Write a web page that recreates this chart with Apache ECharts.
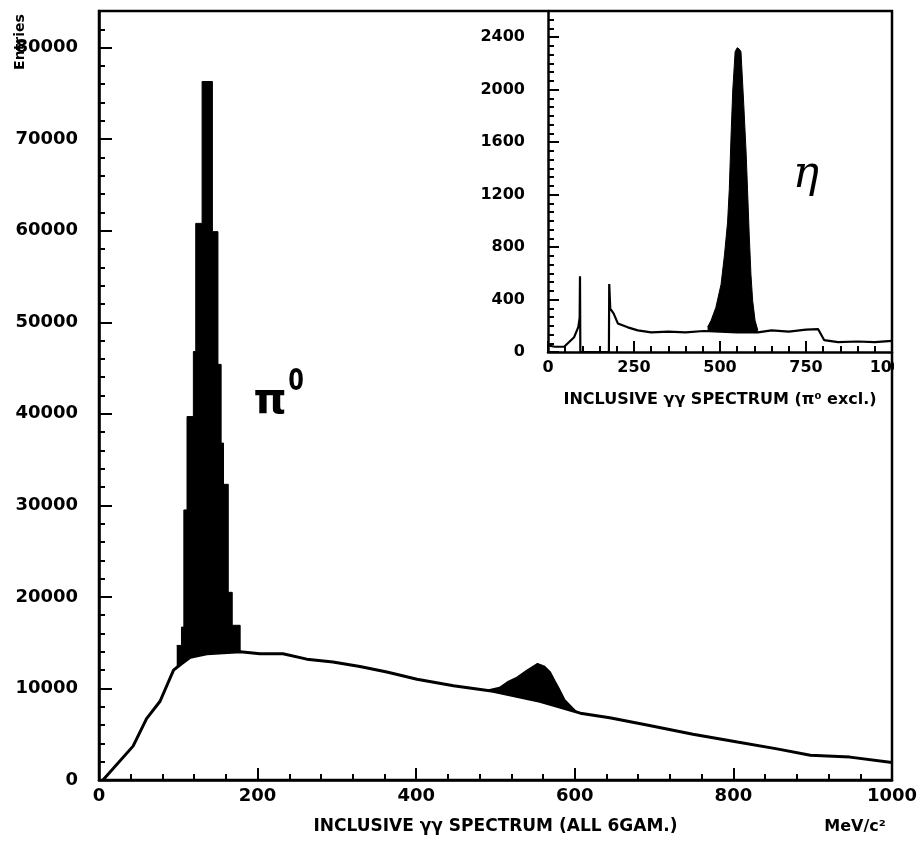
<!DOCTYPE html>
<html><head><meta charset="utf-8">
<script src="https://cdn.jsdelivr.net/npm/echarts@6/dist/echarts.min.js"></script>
<style>html,body{margin:0;padding:0;background:#fff}#c{width:922px;height:850px}</style>
</head><body><div id="c"></div>
<script>
// ---- main spectrum (all 6 gamma), MeV/c^2 vs entries ----
const mainBgX = [5, 43, 60, 77, 94, 104, 115, 136, 178, 203, 232, 262, 295, 329, 363, 401, 447, 497, 556, 607, 644, 691, 749, 805, 855, 897, 947, 1000];
const mainBgY = [0, 3700, 6700, 8600, 12000, 12700, 13400, 13800, 14000, 13800, 13800, 13200, 12900, 12400, 11800, 11000, 10300, 9700, 8600, 7300, 6800, 6000, 5000, 4150, 3400, 2700, 2500, 1900];
// pi0 peak histogram: left bin edges and bin contents (last entry closes the histogram)
const pi0X = [98, 104, 107, 111, 119, 122, 130, 143, 150, 154, 157, 163, 168, 178];
const pi0Y = [14700, 16700, 29500, 39700, 46800, 60800, 76300, 59900, 45400, 36800, 32300, 20500, 16900, 0];
// eta peak outline in main plot
const etaX = [490, 505, 515, 527, 540, 553, 562, 569, 575, 580, 587, 597, 605];
const etaY = [9800, 10100, 10700, 11200, 12000, 12700, 12400, 11800, 10800, 10000, 8800, 7900, 7200];

// ---- inset spectrum (pi0 excluded) ----
const insetBgX = [0, 20, 47, 76, 88, 92, 93, 94, 120, 150, 177, 178, 181, 191, 203, 232, 261, 300, 350, 400, 453, 500, 550, 610, 650, 700, 750, 785, 803, 843, 900, 950, 1000];
const insetBgY = [50, 40, 40, 113, 190, 260, 578, 0, 0, 0, 0, 518, 330, 293, 218, 188, 165, 150, 155, 150, 160, 155, 150, 150, 165, 155, 170, 175, 90, 75, 80, 75, 85];
const insetPeakX = [464, 474, 488, 503, 513, 522, 527, 532, 537, 544, 550, 556, 561, 569, 576, 580, 585, 590, 595, 602, 610];
const insetPeakY = [190, 240, 340, 515, 740, 990, 1240, 1640, 1990, 2290, 2320, 2310, 2290, 1890, 1515, 1240, 890, 590, 390, 240, 165];

// axis ranges / ticks
const mainXRange = [0, 1000, 200];
const mainYRange = [0, 84000, 10000, 2000];
const insetXRange = [0, 1000, 250];
const insetYRange = [0, 2600, 400];

const mainXTitle = 'INCLUSIVE γγ SPECTRUM (ALL 6GAM.)';
const insetXTitle = 'INCLUSIVE γγ SPECTRUM (π⁰ excl.)';
const yTitle = 'Entries';
const unitLabel = 'MeV/c²';

function pairs(xs, ys) { return xs.map((x, i) => [x, ys[i]]); }

const FONT = 'DejaVu Sans';
const BLACK = '#000';
const lbl = (size, margin) => ({ color: BLACK, fontFamily: FONT, fontWeight: 'bold', fontSize: size, margin: margin, formatter: v => String(v) });

const chart = echarts.init(document.getElementById('c'), null, { renderer: 'canvas' });
chart.setOption({
  backgroundColor: '#fff',
  animation: false,
  grid: [
    { left: 99, right: 30, top: 11, bottom: 70, show: true, borderColor: BLACK, borderWidth: 2.5, z: 10, backgroundColor: 'transparent' },
    { left: 548, right: 30, top: 11, bottom: 498, show: false }
  ],
  xAxis: [
    {
      gridIndex: 0, type: 'value', min: mainXRange[0], max: mainXRange[1], interval: mainXRange[2], z: 12,
      axisLine: { show: true, onZero: false, lineStyle: { color: BLACK, width: 2.5 } },
      axisTick: { show: true, inside: true, length: 12, lineStyle: { color: BLACK, width: 2 } },
      minorTick: { show: true, splitNumber: 5, length: 6, lineStyle: { color: BLACK, width: 2 } },
      splitLine: { show: false }, minorSplitLine: { show: false },
      axisLabel: lbl(18, 7),
      name: mainXTitle, nameLocation: 'middle', nameGap: 38,
      nameTextStyle: { color: BLACK, fontFamily: FONT, fontWeight: 'bold', fontSize: 17 }
    },
    {
      gridIndex: 1, type: 'value', min: insetXRange[0], max: insetXRange[1], interval: insetXRange[2], z: 12,
      axisLine: { show: true, onZero: false, lineStyle: { color: BLACK, width: 2.5 } },
      axisTick: { show: true, inside: true, length: 11, lineStyle: { color: BLACK, width: 2 } },
      minorTick: { show: true, splitNumber: 5, length: 6, lineStyle: { color: BLACK, width: 2 } },
      splitLine: { show: false }, minorSplitLine: { show: false },
      axisLabel: lbl(16, 8),
      name: insetXTitle, nameLocation: 'middle', nameGap: 40,
      nameTextStyle: { color: BLACK, fontFamily: FONT, fontWeight: 'bold', fontSize: 16 }
    }
  ],
  yAxis: [
    {
      gridIndex: 0, type: 'value', min: mainYRange[0], max: mainYRange[1], interval: mainYRange[2], z: 12, position: 'left',
      axisLine: { show: true, onZero: false, lineStyle: { color: BLACK, width: 2.5 } },
      axisTick: { show: true, inside: true, length: 13, lineStyle: { color: BLACK, width: 2 } },
      splitLine: { show: false },
      axisLabel: Object.assign(lbl(18, 21), { showMaxLabel: false })
    },
    {
      gridIndex: 0, type: 'value', min: mainYRange[0], max: mainYRange[1], interval: mainYRange[3], z: 12, position: 'left',
      axisLine: { show: false },
      axisTick: { show: true, inside: true, length: 6, lineStyle: { color: BLACK, width: 2 } },
      splitLine: { show: false }, axisLabel: { show: false }
    },
    {
      gridIndex: 1, type: 'value', min: insetYRange[0], max: insetYRange[1], interval: insetYRange[2], z: 12, position: 'left',
      axisLine: { show: true, onZero: false, lineStyle: { color: BLACK, width: 2.5 } },
      axisTick: { show: true, inside: true, length: 11, lineStyle: { color: BLACK, width: 2 } },
      splitLine: { show: false },
      axisLabel: Object.assign(lbl(16, 23), { showMaxLabel: false })
    },
    {
      gridIndex: 1, type: 'value', min: insetYRange[0], max: insetYRange[1], interval: insetYRange[1] / 39, z: 12, position: 'left',
      axisLine: { show: false },
      axisTick: { show: true, inside: true, length: 6, lineStyle: { color: BLACK, width: 2 } },
      splitLine: { show: false }, axisLabel: { show: false }
    }
  ],
  series: [
    { type: 'line', xAxisIndex: 0, yAxisIndex: 0, data: pairs(pi0X, pi0Y), step: 'end', symbol: 'none', z: 2,
      lineStyle: { color: BLACK, width: 1 }, areaStyle: { color: BLACK, opacity: 1 } },
    { type: 'line', xAxisIndex: 0, yAxisIndex: 0, data: pairs(etaX, etaY), symbol: 'none', z: 2,
      lineStyle: { color: BLACK, width: 1.5 }, areaStyle: { color: BLACK, opacity: 1 } },
    { type: 'line', xAxisIndex: 0, yAxisIndex: 0, data: pairs(mainBgX, mainBgY), symbol: 'none', z: 3,
      lineStyle: { color: BLACK, width: 3 }, areaStyle: { color: '#fff', opacity: 1 } },
    { type: 'line', xAxisIndex: 1, yAxisIndex: 2, data: pairs(insetPeakX, insetPeakY), symbol: 'none', z: 2,
      lineStyle: { color: BLACK, width: 1 }, areaStyle: { color: BLACK, opacity: 1 } },
    { type: 'line', xAxisIndex: 1, yAxisIndex: 2, data: pairs(insetBgX, insetBgY), symbol: 'none', z: 3,
      lineStyle: { color: BLACK, width: 2.2 }, areaStyle: { color: '#fff', opacity: 1 } }
  ],
  graphic: [
    { type: 'text', x: 20, y: 42, rotation: Math.PI / 2, z: 100,
      style: { text: yTitle, font: 'bold 14px "DejaVu Sans"', fill: BLACK, align: 'center', verticalAlign: 'middle' } },
    { type: 'text', x: 855, y: 827, z: 100,
      style: { text: unitLabel, font: 'bold 16px "DejaVu Sans"', fill: BLACK, align: 'center', verticalAlign: 'middle' } },
    { type: 'text', x: 270, y: 402, z: 100,
      style: { text: 'π', font: 'bold 42px "DejaVu Sans"', fill: BLACK, align: 'center', verticalAlign: 'middle' } },
    { type: 'text', x: 296, y: 382, scaleX: 0.75, z: 100,
      style: { text: '0', font: 'bold 30px "DejaVu Sans"', fill: BLACK, align: 'center', verticalAlign: 'middle' } },
    { type: 'text', x: 806, y: 176, z: 100,
      style: { text: 'η', font: 'italic 44px "DejaVu Serif"', fill: BLACK, align: 'center', verticalAlign: 'middle' } },
    { type: 'rect', shape: { x: 894, y: 356, width: 28, height: 70 }, style: { fill: '#fff' }, z: 100 }
  ]
});
</script>
</body></html>
